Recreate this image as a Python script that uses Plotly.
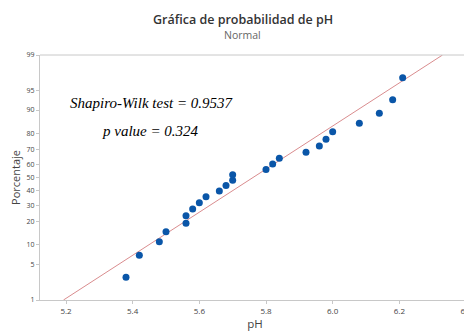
import plotly.graph_objects as go
from statistics import NormalDist

# pH sample and its plotted percentages
ph = [5.38, 5.42, 5.48, 5.50, 5.56, 5.56, 5.58, 5.60, 5.62, 5.66, 5.68, 5.70,
      5.70, 5.80, 5.82, 5.84, 5.92, 5.96, 5.98, 6.00, 6.08, 6.14, 6.18, 6.21]
pct = [2.9, 7.0, 11.1, 15.2, 19.3, 23.4, 27.5, 31.6, 35.7, 39.8, 43.9, 48.0,
       52.0, 56.1, 60.2, 64.3, 68.4, 72.5, 76.6, 80.7, 84.8, 88.9, 93.0, 97.1]

# fitted normal line
mu = 5.761
sigma = 0.2444
line_pct = [1, 99]

y_ticks = [1, 5, 10, 20, 30, 40, 50, 60, 70, 80, 90, 95, 99]
x_ticks = [5.2, 5.4, 5.6, 5.8, 6.0, 6.2, 6.4]

nd = NormalDist()
z = lambda p: nd.inv_cdf(p / 100.0)

fig = go.Figure()
fig.add_trace(go.Scatter(
    x=[mu + sigma * z(p) for p in line_pct], y=[z(p) for p in line_pct],
    mode='lines', line=dict(color='#d98c8e', width=1), hoverinfo='skip'))
fig.add_trace(go.Scatter(
    x=ph, y=[z(p) for p in pct], mode='markers',
    marker=dict(color='#0a56a8', size=7)))

# page body has an 8px margin, so the figure is a bit smaller than the window
fig.update_layout(
    width=464, height=323, showlegend=False,
    plot_bgcolor='white', paper_bgcolor='white',
    margin=dict(l=32, r=2, t=47, b=31),
    font=dict(family='Open Sans, sans-serif', color='#444'),
)
fig.update_xaxes(
    range=[5.122, 6.412], tickvals=x_ticks, ticktext=[f'{v:.1f}' for v in x_ticks],
    showgrid=False, zeroline=False, showline=True, linecolor='#c8c8c8',
    ticks='outside', ticklen=3, tickcolor='#c8c8c8', automargin=False,
    ticklabeloverflow='allow',
    tickfont=dict(size=8, color='#444'),
    title=dict(text='pH', font=dict(size=11.5, color='#444'), standoff=1))
fig.update_yaxes(
    range=[z(1), z(99)], tickvals=[z(p) for p in y_ticks],
    ticktext=[str(p) for p in y_ticks],
    showgrid=False, zeroline=False, showline=True, linecolor='#c8c8c8',
    ticks='outside', ticklen=3, tickcolor='#c8c8c8', automargin=False,
    tickfont=dict(size=7, color='#444'),
    title=dict(text='Porcentaje', font=dict(size=11, color='#444'), standoff=4))

fig.add_shape(type='line', xref='paper', yref='paper', x0=0, x1=1, y0=1, y1=1,
              line=dict(color='#c8c8c8', width=1))

fig.add_annotation(text='Gráfica de probabilidad de pH', x=0.472, y=1.143,
                   xref='paper', yref='paper', yanchor='middle', showarrow=False,
                   font=dict(size=12.5, color='#333', weight=600))
fig.add_annotation(text='Normal', x=0.472, y=1.082,
                   xref='paper', yref='paper', yanchor='middle', showarrow=False,
                   font=dict(size=10.5, color='#666'))

fig.add_annotation(text='<i>Shapiro-Wilk test = 0.9537</i>', x=0.065, y=0.804,
                   xref='paper', yref='paper', xanchor='left', yanchor='middle',
                   showarrow=False,
                   font=dict(family='Liberation Serif, Times New Roman, serif', size=15, color='black'))
fig.add_annotation(text='<i>p value = 0.324</i>', x=0.14, y=0.69,
                   xref='paper', yref='paper', xanchor='left', yanchor='middle',
                   showarrow=False,
                   font=dict(family='Liberation Serif, Times New Roman, serif', size=15, color='black'))

fig.write_html("out.html")
